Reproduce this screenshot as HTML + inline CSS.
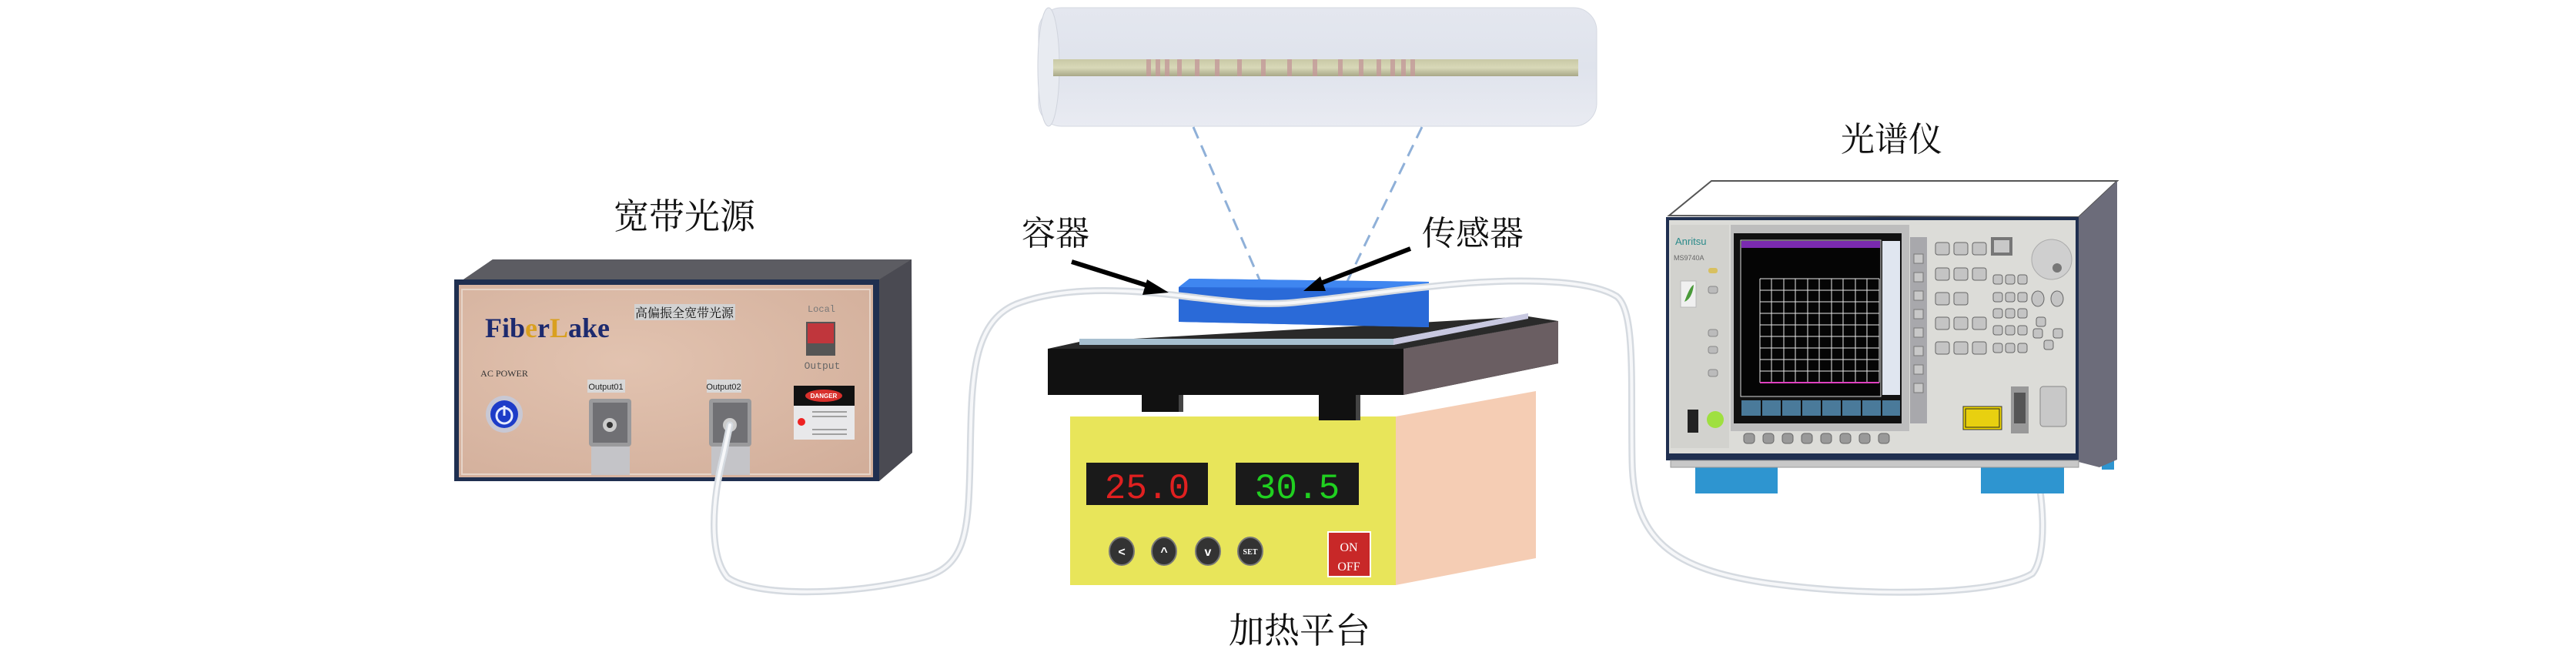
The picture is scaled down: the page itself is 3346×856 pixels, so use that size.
<!DOCTYPE html>
<html><head><meta charset="utf-8"><style>
html,body{margin:0;padding:0;background:#fff;}
svg{display:block;}
.cj{font-family:"Liberation Serif","Noto Serif CJK SC","Noto Sans CJK SC",serif;}
</style></head><body>
<svg width="3346" height="856" viewBox="0 0 3346 856" xmlns="http://www.w3.org/2000/svg">
<defs>
<linearGradient id="cyl" x1="0" y1="0" x2="0" y2="1">
<stop offset="0" stop-color="#e4e7ef"/><stop offset="0.5" stop-color="#dfe3ec"/><stop offset="1" stop-color="#e9ebf2"/></linearGradient>
<linearGradient id="fib" x1="0" y1="0" x2="0" y2="1">
<stop offset="0" stop-color="#c9c9a6"/><stop offset="0.5" stop-color="#d8d8b8"/><stop offset="1" stop-color="#a8a888"/></linearGradient>
<radialGradient id="pan" cx="0.4" cy="0.4" r="0.8"><stop offset="0" stop-color="#e2c3b0"/><stop offset="1" stop-color="#d2ae9a"/></radialGradient>
</defs>

<!-- cylinder -->
<rect x="1349" y="10" width="725" height="154" rx="30" fill="url(#cyl)" stroke="#d5d9e2"/>
<ellipse cx="1362" cy="87" rx="14" ry="77" fill="#e8ebf1" stroke="#d0d4dd"/>
<rect x="1368" y="77" width="682" height="22" fill="url(#fib)"/>
<g fill="#c49a9a" opacity="0.8">
<rect x="1489" y="77" width="6" height="22"/><rect x="1501" y="77" width="6" height="22"/><rect x="1513" y="77" width="6" height="22"/>
<rect x="1529" y="77" width="6" height="22"/><rect x="1552" y="77" width="6" height="22"/><rect x="1578" y="77" width="6" height="22"/>
<rect x="1607" y="77" width="6" height="22"/><rect x="1638" y="77" width="6" height="22"/><rect x="1672" y="77" width="6" height="22"/>
<rect x="1705" y="77" width="6" height="22"/><rect x="1738" y="77" width="6" height="22"/><rect x="1765" y="77" width="6" height="22"/>
<rect x="1788" y="77" width="6" height="22"/><rect x="1806" y="77" width="6" height="22"/><rect x="1820" y="77" width="6" height="22"/><rect x="1832" y="77" width="6" height="22"/>
</g>
<!-- dashed lines -->
<line x1="1550" y1="165" x2="1645" y2="384" stroke="#8fb0d8" stroke-width="3" stroke-dasharray="16,10"/>
<line x1="1847" y1="165" x2="1741" y2="384" stroke="#8fb0d8" stroke-width="3" stroke-dasharray="16,10"/>

<!-- labels -->
<text class="cj" x="889" y="297" font-size="46" text-anchor="middle" fill="#111">宽带光源</text>
<text class="cj" x="1371" y="318" font-size="44" text-anchor="middle" fill="#111">容器</text>
<text class="cj" x="1913" y="318" font-size="44" text-anchor="middle" fill="#111">传感器</text>
<text class="cj" x="1688" y="835" font-size="46" text-anchor="middle" fill="#111">加热平台</text>
<text class="cj" x="2457" y="196" font-size="44" text-anchor="middle" fill="#111">光谱仪</text>

<!-- broadband source box -->
<polygon points="602,363 640,337 1184,337 1185,588 1142,625 1142,363" fill="#4a4a52"/>
<polygon points="602,363 640,337 1184,337 1142,363" fill="#5c5c62"/>
<rect x="590" y="363" width="552" height="262" fill="#1f2f50"/>
<rect x="596" y="370" width="538" height="250" fill="url(#pan)"/>
<rect x="600" y="376" width="530" height="240" fill="none" stroke="#e6d4c8" stroke-width="2"/>
<text x="630" y="438" font-family="Liberation Serif,serif" font-weight="bold" font-size="36" fill="#1d2a6e">Fib<tspan fill="#d9a020">e</tspan>r<tspan fill="#d9a020">L</tspan>ake</text>
<rect x="824" y="395" width="131" height="21" fill="#d2d2d2"/>
<text class="cj" x="889" y="412" font-size="16" text-anchor="middle" fill="#111">高偏振全宽带光源</text>
<text x="1067" y="405" font-family="Liberation Mono,monospace" font-size="12" text-anchor="middle" fill="#777">Local</text>
<rect x="1047" y="418" width="38" height="44" fill="#555"/>
<rect x="1049" y="420" width="34" height="26" fill="#c0363c"/>
<text x="1068" y="479" font-family="Liberation Mono,monospace" font-size="13" text-anchor="middle" fill="#666">Output</text>
<text x="655" y="489" font-family="Liberation Serif,serif" font-size="12" text-anchor="middle" fill="#333">AC POWER</text>
<circle cx="655" cy="538" r="24" fill="#c8c8d4"/>
<circle cx="655" cy="538" r="18" fill="#1d3cc8"/>
<circle cx="655" cy="540" r="10" fill="none" stroke="#e6ecff" stroke-width="3"/>
<line x1="655" y1="527" x2="655" y2="540" stroke="#e6ecff" stroke-width="3"/>
<rect x="763" y="493" width="49" height="17" fill="#d8d8d8"/>
<text x="787" y="506" font-family="Liberation Sans,sans-serif" font-size="11" text-anchor="middle" fill="#222">Output01</text>
<rect x="918" y="493" width="45" height="17" fill="#d8d8d8"/>
<text x="940" y="506" font-family="Liberation Sans,sans-serif" font-size="11" text-anchor="middle" fill="#222">Output02</text>
<g>
<rect x="765" y="518" width="55" height="62" rx="4" fill="#9a9a9c"/><rect x="770" y="523" width="45" height="52" fill="#707074"/>
<circle cx="792" cy="552" r="9" fill="#ccc"/><circle cx="792" cy="552" r="4" fill="#333"/>
<rect x="768" y="580" width="50" height="37" fill="#c4c4c8"/>
<rect x="921" y="518" width="55" height="62" rx="4" fill="#9a9a9c"/><rect x="926" y="523" width="45" height="52" fill="#707074"/>
<circle cx="948" cy="552" r="9" fill="#ccc"/><circle cx="948" cy="552" r="4" fill="#333"/>
<rect x="924" y="580" width="50" height="37" fill="#c4c4c8"/>
</g>
<rect x="1031" y="501" width="79" height="70" fill="#e8e8ea"/>
<rect x="1031" y="501" width="79" height="26" fill="#111"/>
<ellipse cx="1070" cy="514" rx="24" ry="8" fill="#d8302c"/>
<text x="1070" y="517" font-family="Liberation Sans,sans-serif" font-size="8" font-weight="bold" text-anchor="middle" fill="#fff">DANGER</text>
<circle cx="1041" cy="548" r="5" fill="#e22"/>
<g stroke="#888" stroke-width="1.5"><line x1="1055" y1="535" x2="1100" y2="535"/><line x1="1055" y1="541" x2="1100" y2="541"/><line x1="1055" y1="558" x2="1100" y2="558"/><line x1="1055" y1="564" x2="1100" y2="564"/></g>

<!-- heating platform -->
<polygon points="1813,541 1995,508 1995,725 1813,760" fill="#f5cdb4"/>
<rect x="1390" y="541" width="423" height="219" fill="#e8e55a"/>
<rect x="1483" y="505" width="48" height="30" fill="#111"/><rect x="1531" y="505" width="6" height="30" fill="#444"/>
<rect x="1713" y="510" width="48" height="36" fill="#111"/><rect x="1761" y="510" width="6" height="36" fill="#444"/>
<polygon points="1361,453 1823,453 2024,417 2024,472 1823,513 1361,513" fill="#111"/>
<polygon points="1823,453 2024,417 2024,472 1823,513" fill="#6a5e62"/>
<polygon points="1361,453 1402,444 1985,411 2024,417 1823,453" fill="#2a2a2a"/>
<polygon points="1402,440 1810,440 1985,407 1985,411 1810,448 1402,448" fill="#a8c0d0"/>
<polygon points="1810,440 1985,407 1985,414 1810,448" fill="#c8c8e0"/>
<rect x="1411" y="601" width="158" height="55" fill="#1a1a1a"/>
<text x="1490" y="647" font-family="Liberation Mono,monospace" font-size="46" text-anchor="middle" fill="#e02020">25.0</text>
<rect x="1605" y="601" width="160" height="55" fill="#1a1a1a"/>
<text x="1685" y="647" font-family="Liberation Mono,monospace" font-size="46" text-anchor="middle" fill="#20d020">30.5</text>
<g fill="#333" stroke="#777" stroke-width="2">
<ellipse cx="1457" cy="716" rx="16" ry="18"/><ellipse cx="1512" cy="716" rx="16" ry="18"/><ellipse cx="1569" cy="716" rx="16" ry="18"/><ellipse cx="1624" cy="716" rx="16" ry="18"/></g>
<g fill="#fff" font-family="Liberation Sans,sans-serif" font-size="16" text-anchor="middle" font-weight="bold">
<text x="1457" y="722">&lt;</text><text x="1512" y="722">^</text><text x="1569" y="722">v</text><text x="1624" y="720" font-size="10" font-family="Liberation Serif,serif">SET</text></g>
<rect x="1725" y="691" width="55" height="58" fill="#c82828" stroke="#fff" stroke-width="2"/>
<text x="1752" y="716" font-family="Liberation Serif,serif" font-size="16" text-anchor="middle" fill="#fff">ON</text>
<text x="1752" y="741" font-family="Liberation Serif,serif" font-size="16" text-anchor="middle" fill="#fff">OFF</text>

<!-- container -->
<polygon points="1531,373 1545,362 1856,366 1856,425 1531,418" fill="#2d6fe0"/>
<polygon points="1545,362 1856,366 1856,374 1531,373" fill="#3f86f0"/>
<polygon points="1531,373 1856,378 1856,425 1531,418" fill="#2a6ad8"/>

<!-- fiber cable -->
<path d="M948,552 L940,590 C925,650 920,720 945,750 C980,775 1100,775 1200,750 C1255,735 1258,690 1260,600 C1262,500 1260,420 1320,395 C1380,372 1460,375 1540,385 C1600,392 1640,398 1690,392 C1760,385 1800,378 1860,372 C1950,362 2060,360 2100,385 C2125,405 2118,500 2120,600 C2122,700 2170,740 2300,758 C2450,778 2600,770 2640,745 C2660,720 2655,640 2640,590 L2624,540"
 fill="none" stroke="#d5dae0" stroke-width="9" stroke-linecap="round"/>
<path d="M948,552 L940,590 C925,650 920,720 945,750 C980,775 1100,775 1200,750 C1255,735 1258,690 1260,600 C1262,500 1260,420 1320,395 C1380,372 1460,375 1540,385 C1600,392 1640,398 1690,392 C1760,385 1800,378 1860,372 C1950,362 2060,360 2100,385 C2125,405 2118,500 2120,600 C2122,700 2170,740 2300,758 C2450,778 2600,770 2640,745 C2660,720 2655,640 2640,590 L2624,540"
 fill="none" stroke="#f6f7f9" stroke-width="4" stroke-linecap="round"/>

<!-- arrows -->
<line x1="1392" y1="340" x2="1500" y2="374" stroke="#000" stroke-width="6"/>
<polygon points="1518,380 1490,363 1484,383" fill="#000"/>
<line x1="1832" y1="323" x2="1710" y2="370" stroke="#000" stroke-width="6"/>
<polygon points="1693,378 1715,359 1722,378" fill="#000"/>

<!-- spectrum analyzer -->
<rect x="2202" y="600" width="107" height="41" fill="#2e95d0"/>
<rect x="2573" y="600" width="108" height="41" fill="#2e95d0"/>
<rect x="2730" y="590" width="16" height="20" fill="#2e95d0"/>
<polygon points="2168,280 2223,235 2750,235 2700,282" fill="#fff" stroke="#555" stroke-width="2"/>
<polygon points="2700,282 2750,235 2750,597 2727,607 2700,600" fill="#6c6c7a"/>
<rect x="2164" y="282" width="536" height="316" fill="#1f2f50"/>
<rect x="2168" y="286" width="528" height="303" fill="#dcdcd8"/>
<rect x="2170" y="598" width="530" height="9" fill="#c8c8c8" stroke="#999"/>
<rect x="2170" y="292" width="76" height="290" fill="#d2d2ce"/>
<text x="2176" y="318" font-family="Liberation Sans,sans-serif" font-size="13" fill="#2a8a8a">Anritsu</text>
<text x="2174" y="338" font-family="Liberation Sans,sans-serif" font-size="9" fill="#666">MS9740A</text>
<rect x="2183" y="365" width="20" height="34" fill="#f0f0f0" stroke="#bbb"/>
<path d="M2188,392 Q2195,372 2200,370 Q2198,388 2188,392Z" fill="#4a9a3a"/>
<rect x="2219" y="348" width="12" height="7" rx="3" fill="#d8c060"/>
<g fill="#bbb" stroke="#888"><rect x="2219" y="372" width="12" height="9" rx="3"/><rect x="2219" y="428" width="12" height="9" rx="3"/><rect x="2219" y="450" width="12" height="9" rx="3"/><rect x="2219" y="480" width="12" height="9" rx="3"/></g>
<circle cx="2228" cy="545" r="11" fill="#9fe040"/>
<rect x="2192" y="532" width="14" height="30" fill="#222"/>
<rect x="2248" y="292" width="232" height="268" fill="#bdbdbd"/>
<rect x="2252" y="303" width="218" height="247" fill="#111"/>
<rect x="2261" y="312" width="182" height="203" fill="#050505" stroke="#ddd"/>
<rect x="2262" y="313" width="180" height="9" fill="#7a2ab0"/>
<g stroke="#e8e8e8" stroke-width="1">
<line x1="2286" y1="362" x2="2441" y2="362"/><line x1="2286" y1="377" x2="2441" y2="377"/><line x1="2286" y1="392" x2="2441" y2="392"/><line x1="2286" y1="407" x2="2441" y2="407"/><line x1="2286" y1="422" x2="2441" y2="422"/><line x1="2286" y1="437" x2="2441" y2="437"/><line x1="2286" y1="452" x2="2441" y2="452"/><line x1="2286" y1="467" x2="2441" y2="467"/><line x1="2286" y1="482" x2="2441" y2="482"/>
<line x1="2286" y1="362" x2="2286" y2="497"/><line x1="2301" y1="362" x2="2301" y2="497"/><line x1="2317" y1="362" x2="2317" y2="497"/><line x1="2332" y1="362" x2="2332" y2="497"/><line x1="2348" y1="362" x2="2348" y2="497"/><line x1="2363" y1="362" x2="2363" y2="497"/><line x1="2379" y1="362" x2="2379" y2="497"/><line x1="2394" y1="362" x2="2394" y2="497"/><line x1="2410" y1="362" x2="2410" y2="497"/><line x1="2425" y1="362" x2="2425" y2="497"/><line x1="2441" y1="362" x2="2441" y2="497"/></g>
<line x1="2286" y1="497" x2="2441" y2="497" stroke="#e040c0" stroke-width="2"/>
<g fill="#e0e6f0"><rect x="2445" y="313" width="23" height="200"/></g>
<g fill="#4a7a9a"><rect x="2262" y="520" width="25" height="20"/><rect x="2289" y="520" width="24" height="20"/><rect x="2315" y="520" width="24" height="20"/><rect x="2341" y="520" width="24" height="20"/><rect x="2367" y="520" width="24" height="20"/><rect x="2393" y="520" width="24" height="20"/><rect x="2419" y="520" width="24" height="20"/><rect x="2445" y="520" width="23" height="20"/></g>
<g fill="#999" stroke="#666"><rect x="2265" y="563" width="14" height="13" rx="4"/><rect x="2290" y="563" width="14" height="13" rx="4"/><rect x="2315" y="563" width="14" height="13" rx="4"/><rect x="2340" y="563" width="14" height="13" rx="4"/><rect x="2365" y="563" width="14" height="13" rx="4"/><rect x="2390" y="563" width="14" height="13" rx="4"/><rect x="2415" y="563" width="14" height="13" rx="4"/><rect x="2440" y="563" width="14" height="13" rx="4"/></g>
<rect x="2481" y="308" width="22" height="242" fill="#a8a8ac"/>
<g fill="#c8c8c8" stroke="#777"><rect x="2486" y="330" width="12" height="12"/><rect x="2486" y="354" width="12" height="12"/><rect x="2486" y="378" width="12" height="12"/><rect x="2486" y="402" width="12" height="12"/><rect x="2486" y="426" width="12" height="12"/><rect x="2486" y="450" width="12" height="12"/><rect x="2486" y="474" width="12" height="12"/><rect x="2486" y="498" width="12" height="12"/></g>
<g fill="#c4c4c4" stroke="#666">
<rect x="2514" y="315" width="18" height="16" rx="3"/><rect x="2538" y="315" width="18" height="16" rx="3"/><rect x="2562" y="315" width="18" height="16" rx="3"/>
<rect x="2514" y="348" width="18" height="16" rx="3"/><rect x="2538" y="348" width="18" height="16" rx="3"/><rect x="2562" y="348" width="18" height="16" rx="3"/>
<rect x="2514" y="380" width="18" height="16" rx="3"/><rect x="2538" y="380" width="18" height="16" rx="3"/>
<rect x="2514" y="412" width="18" height="16" rx="3"/><rect x="2538" y="412" width="18" height="16" rx="3"/><rect x="2562" y="412" width="18" height="16" rx="3"/>
<rect x="2514" y="444" width="18" height="16" rx="3"/><rect x="2538" y="444" width="18" height="16" rx="3"/><rect x="2562" y="444" width="18" height="16" rx="3"/>
<rect x="2589" y="357" width="12" height="12" rx="3"/><rect x="2605" y="357" width="12" height="12" rx="3"/><rect x="2621" y="357" width="12" height="12" rx="3"/>
<rect x="2589" y="380" width="12" height="12" rx="3"/><rect x="2605" y="380" width="12" height="12" rx="3"/><rect x="2621" y="380" width="12" height="12" rx="3"/>
<rect x="2589" y="401" width="12" height="12" rx="3"/><rect x="2605" y="401" width="12" height="12" rx="3"/><rect x="2621" y="401" width="12" height="12" rx="3"/>
<rect x="2589" y="423" width="12" height="12" rx="3"/><rect x="2605" y="423" width="12" height="12" rx="3"/><rect x="2621" y="423" width="12" height="12" rx="3"/>
<rect x="2589" y="446" width="12" height="12" rx="3"/><rect x="2605" y="446" width="12" height="12" rx="3"/><rect x="2621" y="446" width="12" height="12" rx="3"/>
<ellipse cx="2647" cy="388" rx="8" ry="10"/><ellipse cx="2672" cy="388" rx="8" ry="10"/>
<rect x="2645" y="412" width="12" height="12" rx="3"/><rect x="2641" y="427" width="12" height="12" rx="3"/><rect x="2667" y="427" width="12" height="12" rx="3"/><rect x="2655" y="442" width="12" height="12" rx="3"/>
</g>
<rect x="2586" y="308" width="28" height="24" fill="#777"/><rect x="2590" y="312" width="20" height="16" fill="#c8c8c8"/>
<circle cx="2665" cy="337" r="26" fill="#cfcfcf" stroke="#aaa"/><circle cx="2672" cy="348" r="6" fill="#777"/>
<rect x="2550" y="528" width="50" height="30" fill="#f0d800" stroke="#333"/>
<rect x="2553" y="531" width="44" height="24" fill="#e8d010" stroke="#222"/>
<rect x="2612" y="502" width="23" height="61" fill="#999"/><rect x="2616" y="510" width="15" height="40" fill="#555"/>
<rect x="2650" y="502" width="34" height="52" rx="4" fill="#c8c8c8" stroke="#888"/>
</svg>
</body></html>
